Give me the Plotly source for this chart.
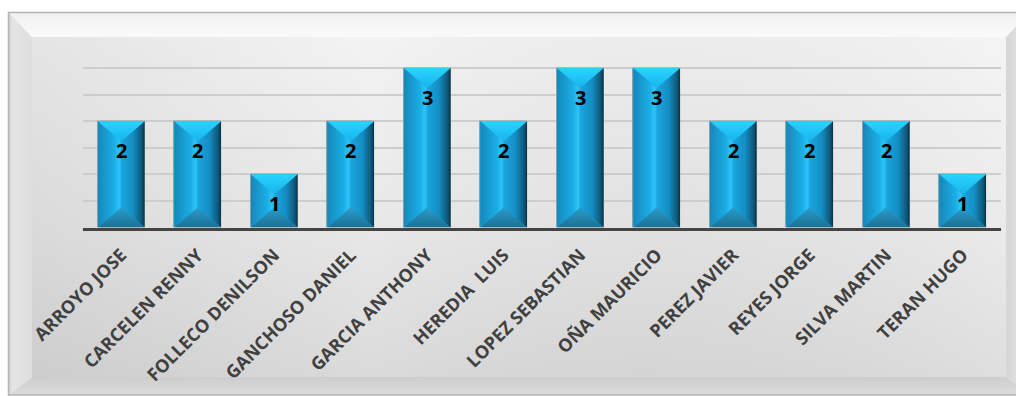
import base64
import plotly.graph_objects as go

# Players and the count recorded for each
players = [
    "ARROYO JOSE", "CARCELEN RENNY", "FOLLECO DENILSON", "GANCHOSO DANIEL",
    "GARCIA ANTHONY", "HEREDIA  LUIS", "LOPEZ SEBASTIAN", "OÑA MAURICIO",
    "PEREZ JAVIER", "REYES JORGE", "SILVA MARTIN", "TERAN HUGO",
]
counts = [2, 2, 1, 2, 3, 2, 3, 3, 2, 2, 2, 1]

W, H = 1016, 396
X_DOM = [83 / W, 1001 / W]
Y_DOM = [1 - 227.5 / H, 1 - 41.5 / H]
Y_MAX = 3.5
BAR_W = 0.61
BEVEL_PX = 20

px_per_unit = (Y_DOM[1] - Y_DOM[0]) * H / Y_MAX
bevel = BEVEL_PX / px_per_unit
xs = list(range(len(players)))

# Framed, beveled gray panel behind the chart
svg = f"""<svg xmlns='http://www.w3.org/2000/svg' width='{W}' height='{H}' viewBox='0 0 {W} {H}'>
<defs>
<linearGradient id='face' x1='0' y1='0' x2='0' y2='1'>
<stop offset='0' stop-color='#f3f3f3'/><stop offset='0.55' stop-color='#e8e8e8'/><stop offset='1' stop-color='#dadada'/>
</linearGradient>
<linearGradient id='side' x1='0' y1='0' x2='1' y2='0'>
<stop offset='0' stop-color='#000' stop-opacity='0.06'/><stop offset='0.35' stop-color='#000' stop-opacity='0.0'/>
<stop offset='1' stop-color='#fff' stop-opacity='0.12'/>
</linearGradient>
<linearGradient id='topb' x1='0' y1='0' x2='0' y2='1'>
<stop offset='0' stop-color='#f0f0f0'/><stop offset='1' stop-color='#fafafa'/>
</linearGradient>
<linearGradient id='botb' x1='0' y1='0' x2='0' y2='1'>
<stop offset='0' stop-color='#cdcdcd'/><stop offset='1' stop-color='#dcdcdc'/>
</linearGradient>
<linearGradient id='leftb' x1='0' y1='0' x2='1' y2='0'>
<stop offset='0' stop-color='#d0d0d0'/><stop offset='0.2' stop-color='#e4e4e4'/><stop offset='1' stop-color='#dedede'/>
</linearGradient>
<linearGradient id='rightb' x1='0' y1='0' x2='1' y2='0'>
<stop offset='0' stop-color='#d6d6d6'/><stop offset='1' stop-color='#e8e8e8'/>
</linearGradient>
</defs>
<rect x='0' y='0' width='{W}' height='{H}' fill='#ffffff'/>
<polygon points='8,12 1030,12 1006,37 32,37' fill='url(#topb)'/>
<polygon points='8,395 1030,395 1006,377 32,377' fill='url(#botb)'/>
<polygon points='8,12 32,37 32,377 8,395' fill='url(#leftb)'/>
<polygon points='1030,12 1006,37 1006,377 1030,395' fill='url(#rightb)'/>
<rect x='32' y='37' width='974' height='340' fill='url(#face)'/>
<rect x='32' y='37' width='974' height='340' fill='url(#side)'/>
<rect x='8.5' y='12.5' width='1030' height='382.5' fill='none' stroke='#b4b4b4' stroke-width='1.5'/>
</svg>"""
svg_uri = "data:image/svg+xml;base64," + base64.b64encode(svg.encode("utf-8")).decode("ascii")

fig = go.Figure()

fig.add_trace(go.Bar(
    x=xs, y=counts, width=BAR_W,
    marker=dict(color="#18a6dd", line=dict(color="#8aa3ad", width=1)),
    hoverinfo="skip", showlegend=False,
))


def facet(px, py, kind, stops):
    fig.add_trace(go.Scatter(
        x=px, y=py, mode="lines", fill="toself",
        line=dict(width=0, color="rgba(0,0,0,0)"),
        fillgradient=dict(type=kind, colorscale=stops),
        hoverinfo="skip", showlegend=False,
    ))


# Beveled faces drawn over each bar (gradients run left->right and bottom->top)
hw = BAR_W / 2
for x, v in zip(xs, counts):
    L, R, c = x - hw, x + hw, x
    facet([L, c, c, L, L], [v, v - bevel, bevel, 0, v], "horizontal",
          [[0, "#1688ba"], [0.7, "#1aaee6"], [0.9, "#2ec4f7"], [1, "#1cb3ec"]])
    facet([R, c, c, R, R], [v, v - bevel, bevel, 0, v], "horizontal",
          [[0, "#1aa6de"], [0.5, "#148ec3"], [0.88, "#0e5676"], [1, "#0a2f40"]])
    facet([L, R, c, L], [v, v, v - bevel, v], "vertical",
          [[0, "#17b5ec"], [1, "#2ad3ff"]])
    facet([L, R, c, L], [0, 0, bevel, 0], "vertical",
          [[0, "#1b7095"], [1, "#2a9cc8"]])

# Value labels inside the top of each bar
for x, v in zip(xs, counts):
    fig.add_annotation(
        x=x, y=v, text=str(v), showarrow=False, yanchor="middle", yshift=-29,
        font=dict(family="Open Sans", size=20, color="#000000", weight=700),
    )

fig.update_layout(
    width=W, height=H,
    margin=dict(l=0, r=0, t=0, b=0),
    paper_bgcolor="#ffffff", plot_bgcolor="rgba(0,0,0,0)",
    bargap=0, showlegend=False,
    images=[dict(source=svg_uri, xref="paper", yref="paper", x=0, y=1,
                 sizex=1, sizey=1, xanchor="left", yanchor="top",
                 sizing="stretch", layer="below")],
    xaxis=dict(
        domain=X_DOM, range=[-0.5, len(players) - 0.5], automargin=False,
        tickmode="array", tickvals=xs, ticktext=players, tickangle=-45,
        tickfont=dict(family="Open Sans", size=18, color="#404040", weight=700),
        showgrid=False, zeroline=False, showline=True,
        linecolor="#444444", linewidth=3, ticks="", ticklabelstandoff=7,
    ),
    yaxis=dict(
        domain=Y_DOM, range=[0, Y_MAX + 0.0001], dtick=0.5, automargin=False,
        showticklabels=False, showgrid=True, gridcolor="#cdcdcd", gridwidth=2,
        zeroline=False, showline=False, ticks="",
    ),
)

fig.write_html("out.html")
